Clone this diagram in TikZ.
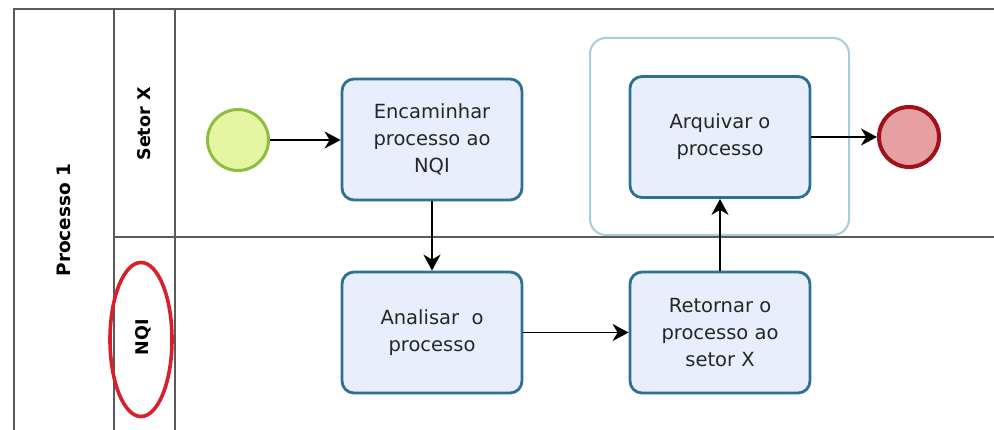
\documentclass[tikz,border=0pt]{standalone}
\usepackage{fontspec}
\setmainfont{DejaVu Sans}
\usetikzlibrary{arrows.meta}
\definecolor{poolline}{HTML}{5A5A5A}
\definecolor{taskfill}{HTML}{E8EEFB}
\definecolor{taskdraw}{HTML}{2E6F96}
\definecolor{groupdraw}{HTML}{AACBD8}
\definecolor{startfill}{HTML}{E6F5A2}
\definecolor{startdraw}{HTML}{8DBE3C}
\definecolor{endfill}{HTML}{E6A0A2}
\definecolor{enddraw}{HTML}{A0121A}
\definecolor{markred}{HTML}{D8202A}
\definecolor{txt}{HTML}{262626}
\begin{document}
\begin{tikzpicture}[x=1pt,y=-1pt,
  pool/.style={draw=poolline,line width=1.4pt},
  task/.style={draw=taskdraw,fill=taskfill,line width=2.8pt,rounded corners=12pt,
    minimum width=180pt,minimum height=121pt,align=center,text=txt,
    font=\fontsize{19.5}{27}\selectfont},
  lanelabel/.style={rotate=90,font=\bfseries\fontsize{17.5}{20}\selectfont,text=black},
  flow/.style={-{Stealth[length=16pt,width=17pt,inset=5pt]},line width=1.8pt,black}]
\useasboundingbox (0,0) rectangle (994,430);
\fill[white] (0,0) rectangle (994,430);
% pool and lanes
\draw[pool] (14,430) -- (14,9) -- (994,9);
\draw[pool] (114,9) -- (114,430);
\draw[pool] (175,9) -- (175,430);
\draw[pool] (114,237) -- (994,237);
\node[lanelabel,font=\bfseries\fontsize{18.5}{20}\selectfont] (pl) at (64,220) {Processo 1};
\node[lanelabel] (lx) at (144,124) {Setor X};
\node[lanelabel] (ln) at (143,337) {NQI};
\draw[markred,line width=3.6pt] (141,339.5) ellipse [x radius=31pt,y radius=77pt];
% group
\draw[groupdraw,line width=2pt,rounded corners=16pt] (590,38) rectangle (849,235);
% events
\node[circle,draw=startdraw,fill=startfill,line width=3pt,minimum size=61pt,inner sep=0pt] (start) at (238,140) {};
\node[circle,draw=enddraw,fill=endfill,line width=4pt,minimum size=60pt,inner sep=0pt] (end) at (909,137) {};
% tasks
\node[task] (t1) at (432,139.5) {Encaminhar\\processo ao\\NQI};
\node[task] (t2) at (432,332.5) {Analisar\ \ o\\processo};
\node[task] (t3) at (720,332.5) {Retornar o\\processo ao\\setor X};
\node[task] (t4) at (720,137) {Arquivar o\\processo};
% flows
\draw[flow] (start.east) -- (start.east -| t1.west);
\draw[flow] (t1.south) -- (t2.north);
\draw[flow] (t2.east) -- (t3.west);
\draw[flow] (t3.north) -- (t4.south);
\draw[flow] (t4.east) -- (end.west);
\end{tikzpicture}
\end{document}
